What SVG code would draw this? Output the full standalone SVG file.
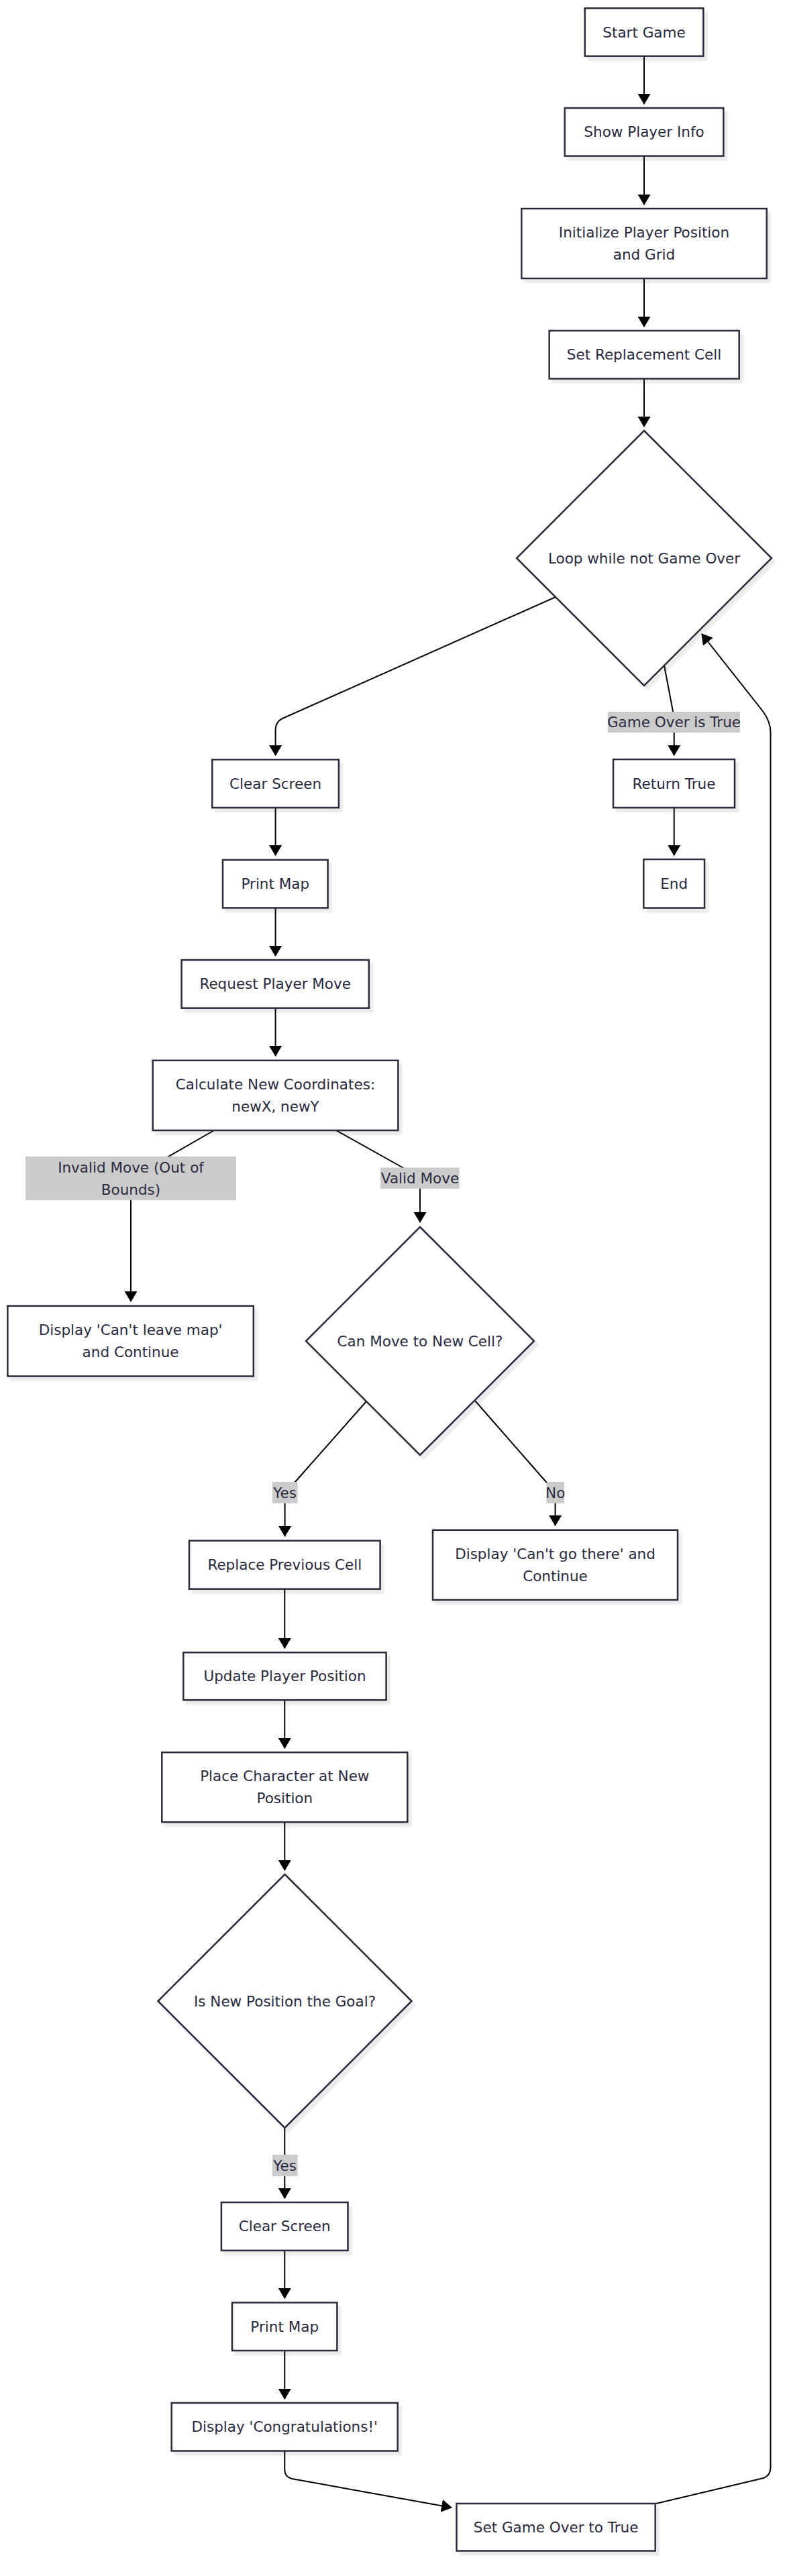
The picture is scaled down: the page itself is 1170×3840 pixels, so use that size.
<svg xmlns="http://www.w3.org/2000/svg" width="1170" height="3840" viewBox="0 0 1170 3840">
<style>
.n rect,.n polygon{fill:#ffffff;stroke:#2a2a3e;stroke-width:2.5;filter:url(#sh)}
.n text{font-family:"DejaVu Sans","Liberation Sans",sans-serif;font-size:21.5px;fill:#2a2a40;text-anchor:middle}
.e path{fill:none;stroke:#000;stroke-width:2;marker-end:url(#ah)}
.lb rect{fill:#cbcbcb}
.lb text{font-family:"DejaVu Sans","Liberation Sans",sans-serif;font-size:21.5px;fill:#2a2a40;text-anchor:middle}
</style>
<defs>
<filter id="sh" x="-10%" y="-10%" width="130%" height="130%">
<feDropShadow dx="5" dy="6" stdDeviation="1" flood-color="#000" flood-opacity="0.08"/>
</filter>
<marker id="ah" viewBox="0 0 16 19" markerWidth="16" markerHeight="19" refX="15" refY="9.5" orient="auto" markerUnits="userSpaceOnUse">
<path d="M0,0 L16,9.5 L0,19 z" fill="#000"/>
</marker>
</defs>
<rect width="1170" height="3840" fill="#ffffff"/>

<g id="connectors" class="e">
<path d="M960,84 L960,155"/>
<path d="M960,233 L960,305"/>
<path d="M960,415 L960,487"/>
<path d="M960,565 L960,636"/>
<path d="M828,890 L421,1071 Q410.6,1076 410.6,1088 L410.6,1126"/>
<path d="M990,992 L1001,1050 Q1004.7,1065 1004.7,1080 L1004.7,1126"/>
<path d="M1004.7,1204 L1004.7,1275"/>
<path d="M410.6,1204 L410.6,1275"/>
<path d="M410.6,1353 L410.6,1425"/>
<path d="M410.6,1503 L410.6,1574"/>
<path d="M319,1685 L220,1742 Q195,1756 195,1770 L195,1940"/>
<path d="M501,1685 L610,1746 Q626,1755 626,1770 L626,1822"/>
<path d="M546,2089 L432,2218 Q424.6,2226 424.6,2238 L424.6,2290"/>
<path d="M708,2088 L820,2216 Q827.6,2225 827.6,2236 L827.6,2274"/>
<path d="M424.3,2369 L424.3,2457"/>
<path d="M424.3,2534 L424.3,2606"/>
<path d="M424.3,2716 L424.3,2788"/>
<path d="M424.3,3171 L424.3,3277"/>
<path d="M424.3,3355 L424.3,3426"/>
<path d="M424.3,3504 L424.3,3576"/>
<path d="M424.3,3654 L424.3,3682 Q424.3,3692 435,3695 L673,3738"/>
<path d="M978,3732 L1138,3694 Q1148.5,3690 1148.5,3678 L1148.5,1092 Q1148.5,1075 1136,1059 L1046,945"/>
</g>

<g id="edge-labels">
<g class="lb"><rect x="906" y="1061" width="197" height="31"/><text x="1004.5" y="1083.5">Game Over is True</text></g>
<g class="lb"><rect x="38" y="1724" width="314" height="65"/><text x="195" y="1748">Invalid Move (Out of</text><text x="195" y="1780.5">Bounds)</text></g>
<g class="lb"><rect x="567" y="1740.5" width="117.5" height="31.5"/><text x="626" y="1763.5">Valid Move</text></g>
<g class="lb"><rect x="406" y="2209" width="37.5" height="32"/><text x="424.6" y="2232.5">Yes</text></g>
<g class="lb"><rect x="814.5" y="2209" width="26.5" height="32"/><text x="827.7" y="2232.5">No</text></g>
<g class="lb"><rect x="406" y="3212" width="37.5" height="32"/><text x="424.6" y="3235.5">Yes</text></g>
</g>

<g id="start" class="n"><rect x="871.7" y="12.2" width="176.6" height="71.5"/><text x="960" y="55.5">Start Game</text></g>
<g id="show-info" class="n"><rect x="841.7" y="161" width="236.6" height="71.6"/><text x="960" y="204.3">Show Player Info</text></g>
<g id="init" class="n"><rect x="777.3" y="311" width="365.4" height="104"/><text x="960" y="354.2">Initialize Player Position</text><text x="960" y="386.8">and Grid</text></g>
<g id="set-replacement" class="n"><rect x="818.7" y="493" width="283" height="71.5"/><text x="960" y="536.2">Set Replacement Cell</text></g>
<g id="loop" class="n"><polygon points="960,642 1150,832 960,1022 770,832"/><text x="960" y="839.5">Loop while not Game Over</text></g>
<g id="return-true" class="n"><rect x="914" y="1132" width="181" height="72"/><text x="1004.5" y="1175.5">Return True</text></g>
<g id="end" class="n"><rect x="959.3" y="1281" width="90.7" height="72.5"/><text x="1004.7" y="1324.7">End</text></g>
<g id="clear-1" class="n"><rect x="316.3" y="1132.3" width="188.6" height="71.7"/><text x="410.6" y="1175.6">Clear Screen</text></g>
<g id="print-1" class="n"><rect x="332" y="1281.7" width="156.6" height="71.7"/><text x="410.3" y="1325">Print Map</text></g>
<g id="request" class="n"><rect x="270.6" y="1431" width="279.2" height="71.7"/><text x="410.2" y="1474.3">Request Player Move</text></g>
<g id="calc" class="n"><rect x="227.7" y="1580.8" width="365.7" height="104.2"/><text x="410.5" y="1624.2">Calculate New Coordinates:</text><text x="410.5" y="1656.8">newX, newY</text></g>
<g id="leave-map" class="n"><rect x="11.4" y="1946.7" width="366.4" height="104.8"/><text x="194.6" y="1990.2">Display 'Can't leave map'</text><text x="194.6" y="2022.8">and Continue</text></g>
<g id="can-move" class="n"><polygon points="626,1829 796,1999 626,2169 456,1999"/><text x="626" y="2006.5">Can Move to New Cell?</text></g>
<g id="replace" class="n"><rect x="282" y="2296.7" width="284.6" height="72"/><text x="424.3" y="2340.2">Replace Previous Cell</text></g>
<g id="cant-go" class="n"><rect x="645" y="2280.8" width="365" height="104.2"/><text x="827.5" y="2324.2">Display 'Can't go there' and</text><text x="827.5" y="2356.8">Continue</text></g>
<g id="update" class="n"><rect x="273.3" y="2463.3" width="302.3" height="70.9"/><text x="424.5" y="2506.2">Update Player Position</text></g>
<g id="place" class="n"><rect x="241.3" y="2612.2" width="366" height="104"/><text x="424.3" y="2655.2">Place Character at New</text><text x="424.3" y="2687.8">Position</text></g>
<g id="goal" class="n"><polygon points="424.5,2794 613.5,2983 424.5,3172 235.5,2983"/><text x="424.5" y="2990.5">Is New Position the Goal?</text></g>
<g id="clear-2" class="n"><rect x="329.9" y="3283" width="188.6" height="71.8"/><text x="424.2" y="3326.4">Clear Screen</text></g>
<g id="print-2" class="n"><rect x="346" y="3432.4" width="156.4" height="71.6"/><text x="424.2" y="3475.7">Print Map</text></g>
<g id="congrats" class="n"><rect x="255.7" y="3582" width="337" height="71.5"/><text x="424.2" y="3625.3">Display 'Congratulations!'</text></g>
<g id="set-game-over" class="n"><rect x="680.5" y="3732" width="296.2" height="70.5"/><text x="828.6" y="3774.7">Set Game Over to True</text></g>
</svg>
